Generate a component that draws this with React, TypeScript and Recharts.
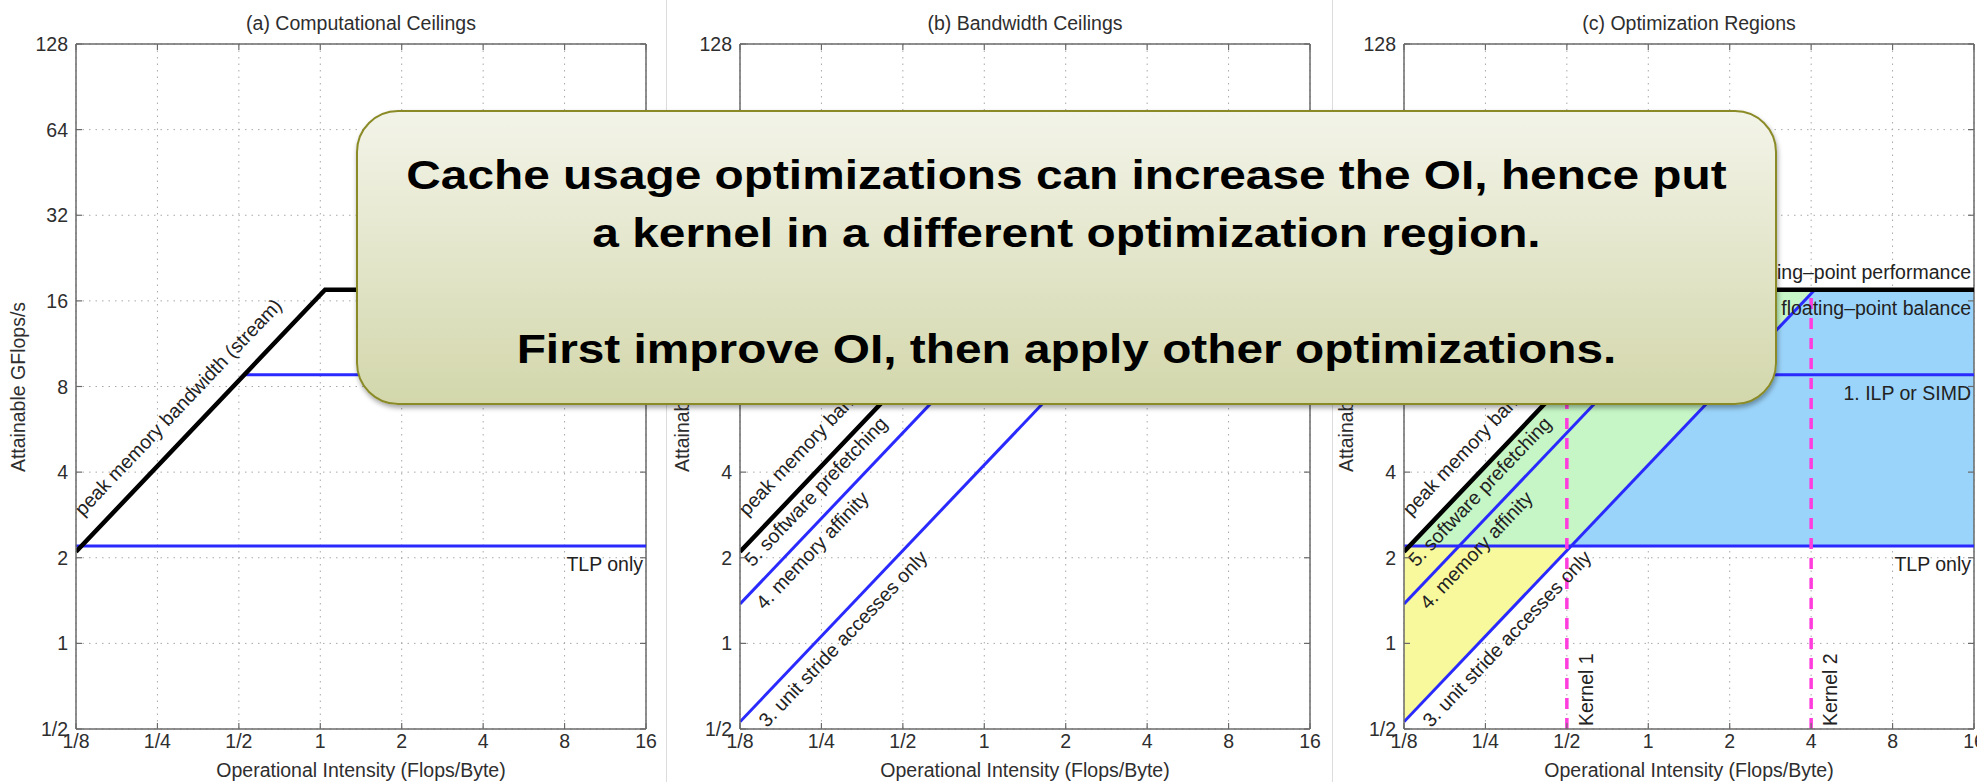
import React from 'react';
import {
  ComposedChart,
  Line,
  Area,
  XAxis,
  YAxis,
  CartesianGrid,
  ReferenceLine,
  ReferenceDot,
} from 'recharts';

// operational intensity axis (Flops/Byte), log2
const oiTicks = [0.125, 0.25, 0.5, 1, 2, 4, 8, 16];
const oiTickLabels = ['1/8', '1/4', '1/2', '1', '2', '4', '8', '16'];

// attainable performance axis (GFlops/s), log2
const gflopsTicks = [0.5, 1, 2, 4, 8, 16, 32, 64, 128];
const gflopsTickLabels = ['1/2', '1', '2', '4', '8', '16', '32', '64', '128'];

const panelTitles = ['(a) Computational Ceilings', '(b) Bandwidth Ceilings', '(c) Optimization Regions'];

// in-core ceilings, GFlops/s
const peakFlops = 17.5;
const ilpFlops = 8.8;
const tlpFlops = 2.2;

// memory ceilings, GB/s (slope of the roof)
const streamBw = 16.8;
const prefetchBw = 11.0;
const strideBw = 4.24;

const kernelOI = [0.5, 4];
const kernelNames = ['Kernel 1', 'Kernel 2'];

const noteLines = [
  'Cache usage optimizations can increase the OI, hence put',
  'a kernel in a different optimization region.',
  '',
  'First improve OI, then apply other optimizations.',
];

// layout
const FONT = '"Liberation Sans", Arial, Helvetica, sans-serif';
const FS = 19.5;
const TXT = '#2e2e2e';
const AXIS = '#6a6a6a';
const BLUE = '#2a2aff';
const PANEL_W = 664;
const H = 782;
const M = { top: 44, right: 18, bottom: 23, left: 16 };
const Y_AXIS_W = 60;
const X_AXIS_H = 30;
const PLOT_W = PANEL_W - M.left - M.right - Y_AXIS_W;
const PLOT_H = H - M.top - M.bottom - X_AXIS_H;
const PLOT_X = M.left + Y_AXIS_W;
const panelLefts = [0, 664, 1328];
const SLOPE_DEG =
  (Math.atan(PLOT_H / (gflopsTicks.length - 1) / (PLOT_W / (oiTicks.length - 1))) * 180) / Math.PI;

const lo = oiTicks[0];
const hi = oiTicks[oiTicks.length - 1];
const meet = (bw: number, flops: number) => flops / bw;

// sloped ceiling from the left edge up to the peak
const slope = (bw: number) => [
  { oi: lo, gf: bw * lo },
  { oi: meet(bw, peakFlops), gf: peakFlops },
];
const flat = (flops: number, from: number) => [
  { oi: from, gf: flops },
  { oi: hi, gf: flops },
];

const roofLine = [...slope(streamBw), { oi: hi, gf: peakFlops }];
const ilpLine = flat(ilpFlops, meet(streamBw, ilpFlops));
const tlpLine = flat(tlpFlops, lo);
const prefetchLine = slope(prefetchBw);
const strideLine = slope(strideBw);

// optimization regions of panel (c)
const tlpStride = meet(strideBw, tlpFlops);
const ridge = meet(streamBw, peakFlops);
const strideRidge = meet(strideBw, peakFlops);
const yellowRegion = [
  { oi: lo, band: [strideBw * lo, tlpFlops] },
  { oi: tlpStride, band: [tlpFlops, tlpFlops] },
];
const greenRegion = [
  { oi: meet(streamBw, tlpFlops), band: [tlpFlops, tlpFlops] },
  { oi: tlpStride, band: [tlpFlops, streamBw * tlpStride] },
  { oi: ridge, band: [strideBw * ridge, peakFlops] },
  { oi: strideRidge, band: [peakFlops, peakFlops] },
];
const blueRegion = [
  { oi: tlpStride, band: [tlpFlops, tlpFlops] },
  { oi: strideRidge, band: [tlpFlops, peakFlops] },
  { oi: hi, band: [tlpFlops, peakFlops] },
];

const near = (a: number, b: number) => Math.abs(a - b) < 1e-9;

const XTick = (p: any) => {
  const { x, y, payload } = p;
  const i = oiTicks.findIndex((t) => near(t, payload.value));
  const bottom = y - 4;
  return (
    <g>
      <line x1={x} x2={x} y1={bottom} y2={bottom - 6} stroke={AXIS} strokeWidth={1.2} />
      <line x1={x} x2={x} y1={bottom - PLOT_H} y2={bottom - PLOT_H + 6} stroke={AXIS} strokeWidth={1.2} />
      <text x={x} y={y} dy="0.78em" textAnchor="middle" fontSize={FS} fontFamily={FONT} fill={TXT}>
        {oiTickLabels[i]}
      </text>
    </g>
  );
};

const YTick = (p: any) => {
  const { x, y, payload } = p;
  const i = gflopsTicks.findIndex((t) => near(t, payload.value));
  const left = x + 8;
  return (
    <g>
      <line x1={left} x2={left + 6} y1={y} y2={y} stroke={AXIS} strokeWidth={1.2} />
      <line x1={left + PLOT_W} x2={left + PLOT_W - 6} y1={y} y2={y} stroke={AXIS} strokeWidth={1.2} />
      <text x={x} y={y} dy="0.36em" textAnchor="end" fontSize={FS} fontFamily={FONT} fill={TXT}>
        {gflopsTickLabels[i]}
      </text>
    </g>
  );
};

// text running along a sloped ceiling; dx along the line, dy across it
const alongLabel = (text: string, dx: number, dy: number) => (p: any) => (
  <text
    x={p.cx + dx}
    y={p.cy + dy}
    transform={`rotate(${-SLOPE_DEG} ${p.cx} ${p.cy})`}
    fontSize={FS}
    fontFamily={FONT}
    fill="#222"
  >
    {text}
  </text>
);

// right-aligned text over/under a flat ceiling
const flatLabel = (text: string, dy: number) => (p: any) => (
  <text x={p.cx - 3} y={p.cy + dy} textAnchor="end" fontSize={FS} fontFamily={FONT} fill="#222">
    {text}
  </text>
);

const kernelLabel = (text: string) => (p: any) => {
  const bx = p.cx + 26;
  const by = p.cy - 3;
  return (
    <text x={bx} y={by} transform={`rotate(-90 ${bx} ${by})`} fontSize={FS} fontFamily={FONT} fill="#222">
      {text}
    </text>
  );
};

const series = (data: any[], color: string, width: number, key: string, dash?: string) => (
  <Line
    key={key}
    data={data}
    dataKey="gf"
    type="linear"
    stroke={color}
    strokeWidth={width}
    strokeDasharray={dash}
    dot={false}
    activeDot={false}
    isAnimationActive={false}
  />
);

const region = (data: any[], color: string, key: string) => (
  <Area
    key={key}
    data={data}
    dataKey="band"
    type="linear"
    stroke="none"
    fill={color}
    fillOpacity={1}
    dot={false}
    activeDot={false}
    isAnimationActive={false}
  />
);

const Panel: React.FC<{ index: number }> = ({ index }) => {
  const withCompute = index !== 1;
  const withBandwidth = index !== 0;
  const withRegions = index === 2;
  return (
    <div style={{ position: 'absolute', left: panelLefts[index], top: 0, width: PANEL_W, height: H }}>
      <div
        style={{
          position: 'absolute',
          left: PLOT_X,
          width: PLOT_W,
          top: 12,
          lineHeight: '22px',
          textAlign: 'center',
          fontSize: FS,
          color: TXT,
        }}
      >
        {panelTitles[index]}
      </div>
      <div
        style={{
          position: 'absolute',
          left: PLOT_X,
          width: PLOT_W,
          top: 759,
          lineHeight: '22px',
          textAlign: 'center',
          fontSize: FS,
          color: TXT,
        }}
      >
        Operational Intensity (Flops/Byte)
      </div>
      <div
        style={{
          position: 'absolute',
          left: 18 - 150,
          width: 300,
          top: M.top + PLOT_H / 2 - 11,
          lineHeight: '22px',
          textAlign: 'center',
          fontSize: FS,
          color: TXT,
          transform: 'rotate(-90deg)',
        }}
      >
        Attainable GFlops/s
      </div>
      <ComposedChart width={PANEL_W} height={H} margin={M}>
        <XAxis
          type="number"
          dataKey="oi"
          scale="log"
          domain={[lo, hi]}
          ticks={oiTicks}
          interval={0}
          allowDataOverflow
          height={X_AXIS_H}
          tickSize={0}
          tickMargin={4}
          axisLine={{ stroke: AXIS, strokeWidth: 1.5 }}
          tick={XTick}
        />
        <YAxis
          type="number"
          scale="log"
          domain={[gflopsTicks[0], gflopsTicks[gflopsTicks.length - 1]]}
          ticks={gflopsTicks}
          interval={0}
          allowDataOverflow
          width={Y_AXIS_W}
          tickSize={0}
          tickMargin={8}
          axisLine={{ stroke: AXIS, strokeWidth: 1.5 }}
          tick={YTick}
        />
        {withRegions && region(yellowRegion, '#f8f89c', 'yellow')}
        {withRegions && region(greenRegion, '#c6f6c6', 'green')}
        {withRegions && region(blueRegion, '#9bd4fa', 'blue')}
        <CartesianGrid stroke="#a8a8a8" strokeDasharray="1.5 5" />
        <ReferenceLine y={gflopsTicks[gflopsTicks.length - 1]} stroke={AXIS} strokeWidth={1.5} ifOverflow="visible" />
        <ReferenceLine x={hi} stroke={AXIS} strokeWidth={1.5} ifOverflow="visible" />

        {withCompute && series(tlpLine, BLUE, 3, 'tlp')}
        {withCompute && series(ilpLine, BLUE, 3, 'ilp')}
        {withBandwidth && series(strideLine, BLUE, 3, 'stride')}
        {withBandwidth && series(prefetchLine, BLUE, 3, 'prefetch')}
        {series(roofLine, '#000', 4.5, 'roof')}
        {withRegions &&
          kernelOI.map((k, i) =>
            series(
              [
                { oi: k, gf: gflopsTicks[0] },
                { oi: k, gf: peakFlops },
              ],
              '#ff3cdc',
              3.5,
              `k${i}`,
              '11 9',
            ),
          )}

        <ReferenceDot x={lo} y={streamBw * lo} r={0} ifOverflow="visible" shape={alongLabel('peak memory bandwidth (stream)', 30, -19)} />
        {withBandwidth && (
          <ReferenceDot x={lo} y={streamBw * lo} r={0} ifOverflow="visible" shape={alongLabel('5. software prefetching', -3, 20)} />
        )}
        {withBandwidth && (
          <ReferenceDot x={lo} y={prefetchBw * lo} r={0} ifOverflow="visible" shape={alongLabel('4. memory affinity', 12, 22)} />
        )}
        {withBandwidth && (
          <ReferenceDot x={lo} y={strideBw * lo} r={0} ifOverflow="visible" shape={alongLabel('3. unit stride accesses only', 14, 24)} />
        )}
        <ReferenceDot x={hi} y={peakFlops} r={0} ifOverflow="visible" shape={flatLabel('peak floating–point performance', -11)} />
        {withCompute && (
          <ReferenceDot x={hi} y={peakFlops} r={0} ifOverflow="visible" shape={flatLabel('floating–point balance', 25)} />
        )}
        {withCompute && (
          <ReferenceDot x={hi} y={ilpFlops} r={0} ifOverflow="visible" shape={flatLabel('1. ILP or SIMD', 25)} />
        )}
        {withCompute && (
          <ReferenceDot x={hi} y={tlpFlops} r={0} ifOverflow="visible" shape={flatLabel('TLP only', 25)} />
        )}
        {withRegions &&
          kernelOI.map((k, i) => (
            <ReferenceDot key={`kl${i}`} x={k} y={gflopsTicks[0]} r={0} ifOverflow="visible" shape={kernelLabel(kernelNames[i])} />
          ))}
      </ComposedChart>
    </div>
  );
};

const NoteBox: React.FC = () => (
  <div
    style={{
      position: 'absolute',
      left: 356,
      top: 110,
      width: 1421,
      height: 295,
      boxSizing: 'border-box',
      border: '2px solid #8a8a26',
      borderRadius: 42,
      background: 'linear-gradient(#f3f4e9, #d3d7ab)',
      boxShadow: '1px 3px 5px rgba(0,0,0,0.35)',
    }}
  >
    <div
      style={{
        position: 'absolute',
        left: 0,
        right: 0,
        top: 34,
        textAlign: 'center',
        fontWeight: 700,
        fontSize: 41,
        lineHeight: '58px',
        color: '#000',
        transform: 'scaleX(1.166)',
      }}
    >
      {noteLines.map((l, i) => (
        <React.Fragment key={i}>
          {l}
          {i < noteLines.length - 1 && <br />}
        </React.Fragment>
      ))}
    </div>
  </div>
);

export default function App() {
  return (
    <div
      style={{
        position: 'absolute',
        left: 0,
        top: 0,
        width: 1977,
        height: 782,
        overflow: 'hidden',
        background: '#fff',
        fontFamily: FONT,
      }}
    >
      {panelTitles.map((_, i) => (
        <Panel key={i} index={i} />
      ))}
      <div style={{ position: 'absolute', left: 666, top: 0, width: 1, height: H, background: '#dcdcdc' }} />
      <div style={{ position: 'absolute', left: 1332, top: 0, width: 1, height: H, background: '#dcdcdc' }} />
      <NoteBox />
    </div>
  );
}
